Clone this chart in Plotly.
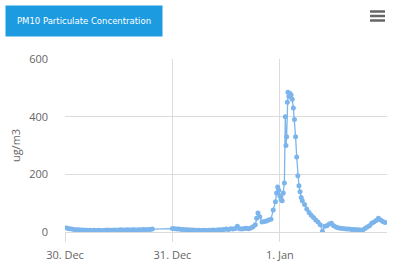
import pandas as pd
import plotly.graph_objects as go

# hours after 30 Dec 00:00 and PM10 values (ug/m3)
start = "2015-12-30 00:00"
hours_a = [i * 0.5 for i in range(40)]
vals_a = [15, 13, 11, 10, 9, 8, 8, 7, 7, 6, 6, 6, 5, 6, 5, 6, 5, 5, 6, 7,
          6, 6, 7, 6, 7, 8, 7, 7, 8, 7, 8, 8, 7, 8, 8, 9, 8, 9, 9, 10]

hours_b = [24, 24.5, 25, 25.5, 26, 26.5, 27, 27.5, 28, 28.5, 29, 29.5, 30, 30.5,
           31, 31.5, 32, 32.5, 33, 33.5, 34, 34.5, 35, 35.5, 36, 36.5, 37, 37.5,
           38, 38.5, 39, 39.5, 40, 40.5, 41, 41.5, 42, 42.5, 42.8, 43.1, 43.5,
           44, 44.5, 45, 45.5, 46, 46.5, 47, 47.25, 47.5, 47.75, 48, 48.25, 48.5,
           48.75, 49, 49.2, 49.35, 49.5, 49.65, 49.8, 50, 50.25, 50.5, 50.75,
           51, 51.25, 51.5, 51.75, 52, 52.25, 52.5, 52.75, 53, 53.5, 54, 54.5,
           55, 55.5, 56, 56.5, 57, 57.5, 58, 58.5, 59, 59.5, 60, 60.5, 61, 61.5,
           62, 62.5, 63, 63.5, 64, 64.5, 65, 65.5, 66, 66.5, 67, 67.5, 68, 68.5,
           69, 69.5, 70, 70.5, 71, 71.5]
vals_b = [12, 11, 10, 10, 9, 9, 8, 8, 7, 7, 6, 6, 6, 5,
          6, 5, 6, 6, 7, 6, 7, 8, 8, 9, 10, 9, 11, 10,
          12, 20, 11, 10, 12, 13, 11, 14, 18, 25, 48, 66, 53,
          35, 36, 38, 42, 44, 76, 105, 135, 156, 145, 125, 112, 108,
          135, 170, 400, 300, 330, 450, 485, 470, 480, 475, 460,
          430, 390, 330, 260, 195, 160, 140, 120, 108, 95, 80, 68,
          58, 50, 42, 35, 25, 3, 20, 22, 28, 30, 22, 17, 15, 13,
          12, 11, 10, 10, 9, 9, 8, 8, 7, 7, 12, 17, 22, 30,
          35, 40, 48, 42, 36, 33]

hours = hours_a + hours_b
values = vals_a + vals_b
times = pd.Timestamp(start) + pd.to_timedelta(hours, unit="h")

tick_vals = ["2015-12-30", "2015-12-31", "2016-01-01"]
tick_text = ["30. Dec", "31. Dec", "1. Jan"]

title_text = "PM10 Particulate Concentration"
y_title = "ug/m3"

fig = go.Figure()
fig.add_trace(go.Scatter(
    x=times, y=values, mode="lines+markers",
    line=dict(color="#7cb5ec", width=1.3),
    marker=dict(color="#7cb5ec", size=5),
    showlegend=False,
))

W, H = 400, 267
ml, mr, mt, mb = 65, 13, 59, 35
pw, ph = W - ml - mr, H - mt - mb

def px(x):
    return (x - ml) / pw

def py(y):
    return (H - mb - y) / ph

grid = "#dcdcdc"
fig.update_layout(
    width=W, height=H,
    margin=dict(l=ml, r=mr, t=mt, b=mb, pad=0),
    plot_bgcolor="white", paper_bgcolor="white",
    font=dict(family="Open Sans, DejaVu Sans, sans-serif", size=11, color="#666666"),
    xaxis=dict(
        range=["2015-12-30 00:00", "2016-01-01 23:55"],
        tickvals=tick_vals, ticktext=tick_text,
        showgrid=True, gridcolor=grid, gridwidth=1,
        ticks="outside", ticklen=9, tickcolor=grid,
        ticklabelstandoff=4,
        showline=True, linecolor=grid, linewidth=1,
        zeroline=False, automargin=False,
        tickfont=dict(size=11, color="#666666"),
    ),
    yaxis=dict(
        range=[0, 600], tickvals=[0, 200, 400, 600],
        showgrid=True, gridcolor=grid, gridwidth=1,
        zeroline=False, automargin=False,
        ticklabelstandoff=16,
        tickfont=dict(size=11, color="#666666"),
        title=dict(text=y_title, standoff=6, font=dict(size=11, color="#666666")),
    ),
    shapes=[
        dict(type="line", xref="paper", yref="paper",
             x0=px(370), x1=px(385), y0=py(yy), y1=py(yy),
             line=dict(color="#666666", width=2.5))
        for yy in (11.5, 16, 20.5)
    ],
    annotations=[
        dict(text=title_text, xref="paper", yref="paper",
             x=px(5), y=py(5), xanchor="left", yanchor="top",
             width=156, height=30, bgcolor="#1c9be0", borderpad=0,
             align="center", valign="middle", showarrow=False,
             font=dict(family="DejaVu Sans, sans-serif", size=8.5, color="white")),
    ],
)

fig.write_html("out.html")
